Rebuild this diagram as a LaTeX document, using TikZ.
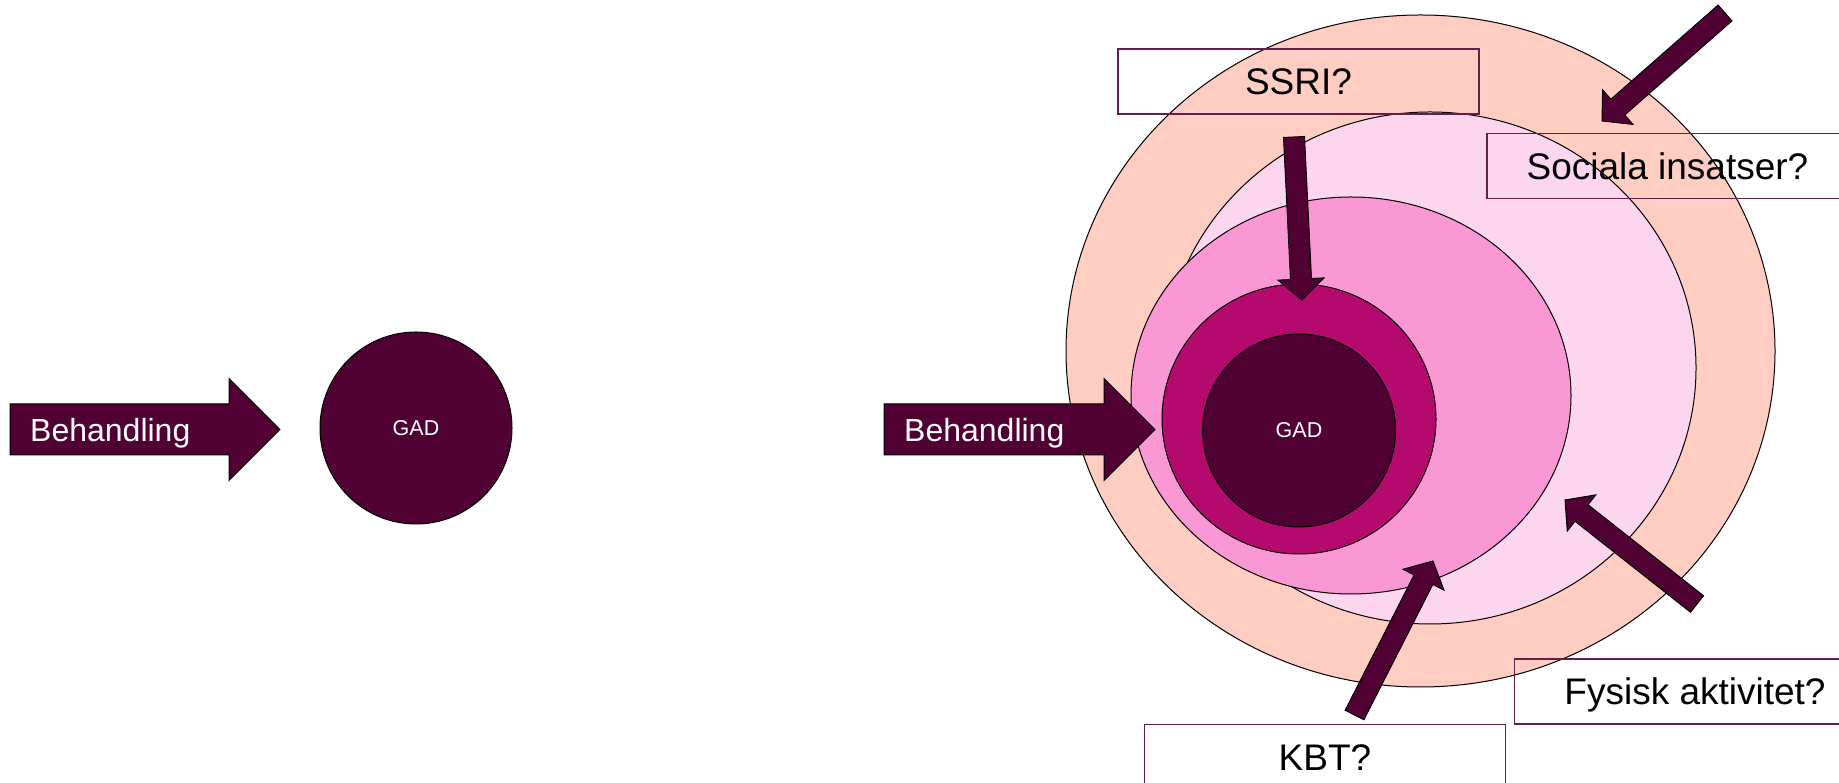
\documentclass[tikz,border=0pt]{standalone}
\usepackage{fontspec}
\setmainfont{Liberation Sans}
\usetikzlibrary{calc, shapes.geometric}

\definecolor{plum}{RGB}{80,0,50}
\definecolor{magentaring}{RGB}{180,10,110}
\definecolor{rosa}{RGB}{249,152,212}
\definecolor{ljusrosa}{RGB}{252,213,238}
\definecolor{persika}{RGB}{255,205,194}
\definecolor{boxline}{RGB}{100,30,75}

\tikzset{
    zon/.style={ellipse, draw=black, line width=1pt, inner sep=0pt},
    gad/.style={circle, draw=black, line width=1pt, fill=plum, text=white,
        minimum size=192pt, inner sep=0pt, font=\fontsize{21.5}{26}\selectfont},
    fraga/.style={draw=boxline, line width=1.5pt, minimum width=361pt, minimum height=65pt,
        inner sep=0pt, text height=26.5pt, text depth=0pt, font=\fontsize{37}{44}\selectfont},
    pil/.style={draw=black, line width=1pt, fill=plum},
    piltext/.style={text=white, anchor=base west, inner sep=0pt, font=\fontsize{32}{38}\selectfont}
}

% block arrow: tail, tip, half shaft, half head, head length
\newcommand{\blockpil}[5]{%
    \coordinate (hb) at ($(#2)!#5!(#1)$);
    \draw[pil] ($(#1)!#3!-90:(#2)$) -- ($(hb)!#3!-90:(#2)$) -- ($(hb)!#4!-90:(#2)$) -- (#2)
        -- ($(hb)!#4!90:(#2)$) -- ($(hb)!#3!90:(#2)$) -- ($(#1)!#3!90:(#2)$) -- cycle;
}

\begin{document}
\begin{tikzpicture}[x=1pt, y=1pt]
    \useasboundingbox (0,0) rectangle (1839,783);
    \clip (0,0) rectangle (1839,783);

%%%%%%%%%%%%%%%%%%%%%%%%%%%%%%%%%%%%%%%%%%
    % vänster: bara behandling
    \node[gad] (gadL) at (416,355) {GAD};
    \coordinate (behL) at (10,353.5);
    \coordinate (behLtip) at (280,353.5);
    \blockpil{behL}{behLtip}{25.5pt}{51pt}{51pt}
    \node[piltext] at ($(behL)+(20,-12.5)$) {Behandling};

%%%%%%%%%%%%%%%%%%%%%%%%%%%%%%%%%%%%%%%%%%
    % höger: zoner runt GAD
    \node[zon, fill=persika, minimum width=709pt, minimum height=672pt] (yttre) at (1420.5,432) {};
    \node[zon, fill=ljusrosa, minimum width=532pt, minimum height=512pt] (mellan) at (1430,415) {};
    \node[zon, fill=rosa, minimum width=440pt, minimum height=397pt] (inre) at (1351,387.5) {};
    \node[zon, fill=magentaring, minimum width=274pt, minimum height=270pt] (ring) at (1299,364) {};
    \node[gad, minimum size=193pt] (gadR) at (1299,352.5) {GAD};

    \coordinate (behR) at (884,353.5);
    \coordinate (behRtip) at (1155,353.5);
    \blockpil{behR}{behRtip}{25.5pt}{51pt}{51pt}
    \node[piltext] at ($(behR)+(20,-12.5)$) {Behandling};

%%%%%%%%%%%%%%%%%%%%%%%%%%%%%%%%%%%%%%%%%%
    % frågor
    \node[fraga] (ssri) at (1298.5,701.5) {SSRI?};
    \node[fraga] (sociala) at (1667.5,617) {Sociala insatser?};
    \node[fraga] (fysisk) at (1695,91.3) {Fysisk aktivitet?};
    \node[fraga] (kbt) at (1325,25.8) {KBT?};

    \coordinate (ssriA) at (1294,646);    \coordinate (ssriB) at (1302,483);
    \coordinate (socA) at (1725,770);     \coordinate (socB) at (1602,662);
    \coordinate (fysA) at (1697,179);     \coordinate (fysB) at (1565,283);
    \coordinate (kbtA) at (1354.5,68);    \coordinate (kbtB) at (1433,222);
    \blockpil{ssriA}{ssriB}{10.5pt}{23pt}{21pt}
    \blockpil{socA}{socB}{10.5pt}{23pt}{21pt}
    \blockpil{fysA}{fysB}{10.5pt}{23pt}{21pt}
    \blockpil{kbtA}{kbtB}{10.5pt}{23pt}{21pt}
\end{tikzpicture}
\end{document}
